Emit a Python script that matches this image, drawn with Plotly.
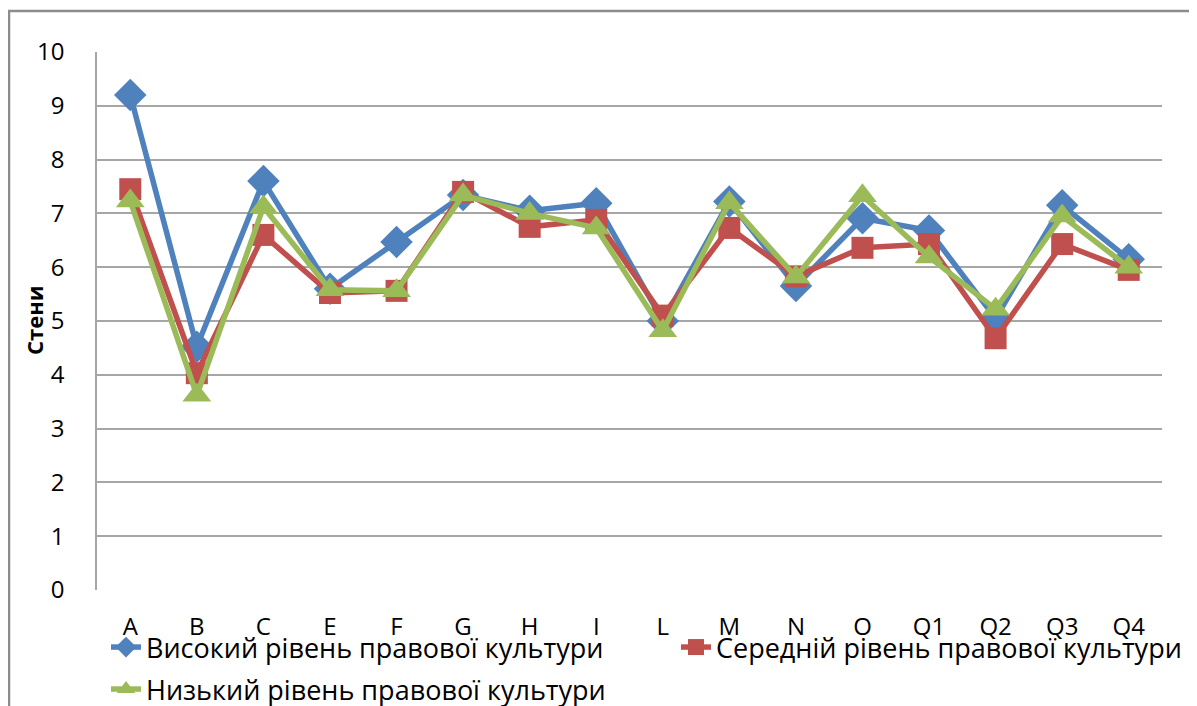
import plotly.graph_objects as go

categories = ["A", "B", "C", "E", "F", "G", "H", "I", "L", "M", "N", "O", "Q1", "Q2", "Q3", "Q4"]
high = [9.2, 4.52, 7.6, 5.6, 6.47, 7.34, 7.05, 7.19, 5.0, 7.22, 5.65, 6.91, 6.68, 5.05, 7.15, 6.15]
mid = [7.45, 4.03, 6.6, 5.52, 5.56, 7.4, 6.75, 6.88, 5.1, 6.73, 5.83, 6.36, 6.43, 4.68, 6.43, 5.95]
low = [7.23, 3.62, 7.12, 5.58, 5.56, 7.34, 7.0, 6.73, 4.82, 7.2, 5.82, 7.33, 6.19, 5.22, 6.95, 6.0]
names = ["Високий рівень правової культури", "Середній рівень правової культури", "Низький рівень правової культури"]
y_title = "Стени"

colors = ["#4F81BD", "#C0504D", "#9BBB59"]
symbols = ["diamond", "square", "triangle-up"]
sizes = [25, 22, 25]
legends = ["legend", "legend3", "legend2"]

fig = go.Figure()
for vals, name, c, s, sz, lg in zip([high, mid, low], names, colors, symbols, sizes, legends):
    fig.add_trace(go.Scatter(
        x=categories, y=vals, name=name, mode="lines+markers",
        line=dict(color=c, width=5.5),
        marker=dict(symbol=s, size=sz, color=c),
        legend=lg,
    ))

# page body has an 8px margin, so figure coords = screen coords - 8
OFF = 8
W, H = 1197, 706
L, T = 97 - OFF, 52 - OFF
R = W - (1162 - OFF)
B = H - (590 - OFF)
pw, ph = W - L - R, H - T - B
y0px = 590 - OFF  # figure y of value 0


def px_x(sx):
    return (sx - OFF - L) / pw


def px_y(sy):
    return (y0px - (sy - OFF)) / ph


legfont = dict(size=27, family="Open Sans, sans-serif", color="#000000")


def leg(xp, yp):
    return dict(
        orientation="h", x=px_x(xp), y=px_y(yp), xanchor="left", yanchor="top",
        font=legfont, bgcolor="rgba(0,0,0,0)",
    )


fig.update_layout(
    width=W, height=H,
    margin=dict(l=L, r=R, t=T, b=B, autoexpand=False),
    paper_bgcolor="white", plot_bgcolor="white",
    font=dict(family="Open Sans, Liberation Sans, sans-serif", color="#000000", size=22),
    showlegend=True,
    legend=leg(106, 623),
    legend3=leg(676, 623),
    legend2=leg(106, 665),
    xaxis=dict(
        type="category", showgrid=False, showline=False, ticks="",
        tickfont=dict(size=24), range=[-0.5, 15.5], ticklabelstandoff=20,
    ),
    yaxis=dict(
        range=[0, 10], dtick=1, showgrid=True, gridcolor="#A6A6A6", gridwidth=1.5,
        showline=True, linecolor="#A6A6A6", linewidth=1.5,
        ticks="", ticklabelstandoff=26,
        tickfont=dict(size=24), zeroline=False,
    ),
    annotations=[dict(
        text="<b>" + y_title + "</b>", xref="paper", yref="paper",
        x=px_x(34), y=px_y(320), xanchor="center", yanchor="middle",
        textangle=-90, showarrow=False, font=dict(size=22, color="#000000"),
    )],
    shapes=[dict(
        type="rect", xref="paper", yref="paper",
        x0=px_x(9), x1=px_x(1192),
        y0=px_y(730), y1=px_y(11),
        line=dict(color="#8C8C8C", width=2.5), fillcolor="rgba(0,0,0,0)", layer="below",
    )],
)

fig.write_html("out.html")
